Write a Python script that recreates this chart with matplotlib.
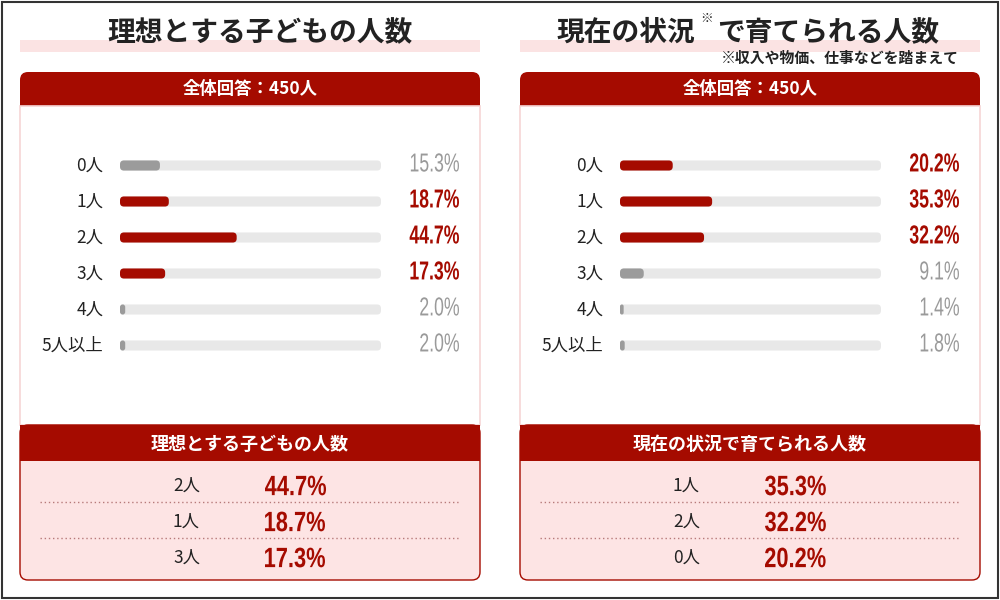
import matplotlib
matplotlib.use("Agg")
import matplotlib.pyplot as plt
from matplotlib.patches import FancyBboxPatch, Rectangle, PathPatch
from matplotlib.textpath import TextPath
from matplotlib.font_manager import FontProperties
from matplotlib.transforms import Affine2D, ScaledTranslation, blended_transform_factory

plt.rcParams['font.family'] = ['Noto Sans CJK JP', 'DejaVu Sans']

# data
categories = ["0人", "1人", "2人", "3人", "4人", "5人以上"]
ideal_pct = [15.3, 18.7, 44.7, 17.3, 2.0, 2.0]
current_pct = [20.2, 35.3, 32.2, 9.1, 1.4, 1.8]
respondents = 450

titles = ["理想とする子どもの人数", "現在の状況で育てられる人数"]
note = "※収入や物価、仕事などを踏まえて"

RED = "#a50b00"
GRAY_BAR = "#9b9b9b"
GRAY_TXT = "#9a9a9a"
TRACK = "#e8e8e8"
PINK = "#fde4e4"
DARK = "#222222"

fig = plt.figure(figsize=(10, 6), dpi=100)
bg = fig.add_axes([0, 0, 1, 1])
bg.set_xlim(0, 1000)
bg.set_ylim(600, 0)
bg.axis("off")

# outer frame
bg.add_patch(Rectangle((1.5, 1.5), 996, 596, fill=False, ec="#333333", lw=1.5))


def narrow_text(ax, x, y, s, trans, size, color, ha="left", bold=True, sx=0.74, dx=0, dy=0):
    # condensed numerals: squeeze a text path horizontally
    prop = FontProperties(family="Liberation Sans", weight="bold" if bold else "normal")
    path = TextPath((0, 0), s, size=size, prop=prop)
    ext = path.get_extents()
    xs = -ext.x0 * sx if ha == "left" else -ext.x1 * sx
    ys = -(ext.y0 + ext.y1) / 2
    t = Affine2D().scale(sx, 1).translate(xs + dx, ys + dy) + ScaledTranslation(x, y, trans)
    p = PathPatch(path, fc=color, ec="none", transform=t, clip_on=False, zorder=5)
    ax.add_artist(p)


def rounded_bar(ax, value, row, color, h=0.28, r=1.5, asp=0.074):
    rr = min(r, value / 2)
    ax.add_patch(FancyBboxPatch((0, row - h / 2), value, h,
                                boxstyle=f"round,pad=0,rounding_size={rr}",
                                mutation_aspect=asp, fc=color, ec="none"))


def panel(x0, values, title, with_note):
    # title with pink band
    bg.add_patch(Rectangle((x0 + 20, 40), 460, 12, fc="#fbe3e3", ec="none", zorder=1))
    if with_note:
        left, right = title.split("で", 1)
        bg.text(x0 + 195, 33, left, ha="right", va="center", fontsize=20,
                fontweight="bold", color=DARK, zorder=3)
        bg.text(x0 + 207, 18, "※", ha="center", va="center", fontsize=9,
                color=DARK, zorder=3)
        bg.text(x0 + 217, 33, "で" + right, ha="left", va="center", fontsize=20,
                fontweight="bold", color=DARK, zorder=3)
        bg.text(x0 + 459, 58, note, ha="right", va="center", fontsize=10.7,
                fontweight="bold", color=DARK, zorder=3)
    else:
        bg.text(x0 + 260, 33, title, ha="center", va="center", fontsize=20,
                fontweight="bold", color=DARK, zorder=3)

    # top header
    bg.add_patch(FancyBboxPatch((x0 + 20, 72), 460, 44,
                                boxstyle="round,pad=0,rounding_size=8",
                                fc=RED, ec="none", zorder=1))
    bg.add_patch(Rectangle((x0 + 20, 106), 460, 319, fc="white",
                           ec="#f6d6d6", lw=1.2, zorder=2))
    bg.text(x0 + 250, 89, f"全体回答：{respondents}人", ha="center", va="center",
            fontsize=12.5, fontweight="bold", color="white", zorder=3)

    # ranking
    order = sorted(range(len(values)), key=lambda i: values[i], reverse=True)
    top3 = order[:3]

    # bar axes
    ax = fig.add_axes([(x0 + 120) / 1000, 1 - 363.5 / 600, 261 / 1000, 216 / 600])
    ax.set_xlim(0, 100)
    ax.set_ylim(len(categories) - 0.5, -0.5)
    ax.axis("off")
    side = blended_transform_factory(ax.transAxes, ax.transData)
    for i, (cat, v) in enumerate(zip(categories, values)):
        rounded_bar(ax, 100, i, TRACK)
        hot = i in top3
        rounded_bar(ax, v, i, RED if hot else GRAY_BAR)
        ax.annotate(cat, xy=(0, i), xycoords=("axes fraction", "data"),
                    xytext=(-12, 0), textcoords="offset points",
                    ha="right", va="center", fontsize=12.5, color=DARK)
        narrow_text(ax, 1, i, f"{v:.1f}%", side, 26,
                    RED if hot else GRAY_TXT, ha="right", bold=hot, sx=0.68,
                    dx=78, dy=3)

    # bottom summary
    bg.add_patch(FancyBboxPatch((x0 + 20, 425), 460, 155,
                                boxstyle="round,pad=0,rounding_size=8",
                                fc=PINK, ec=RED, lw=1, zorder=2))
    bg.add_patch(Rectangle((x0 + 20, 425), 460, 36, fc=RED, ec="none", zorder=3))
    bg.text(x0 + 250, 444, title, ha="center", va="center", fontsize=13,
            fontweight="bold", color="white", zorder=4)
    row_y = [486, 522, 558]
    for k, i in enumerate(top3):
        bg.text(x0 + 200, row_y[k], categories[i], ha="right", va="center",
                fontsize=12.5, color=DARK, zorder=4)
        narrow_text(bg, x0 + 265, row_y[k], f"{values[i]:.1f}%", bg.transData,
                    28, RED, ha="left", bold=True, sx=0.78, dy=0.5)
    for yy in [502, 538]:
        bg.plot([x0 + 40, x0 + 460], [yy, yy], ls=(0, (1, 2)), color="#b77a7a",
                lw=1, zorder=4)


panel(0, ideal_pct, titles[0], False)
panel(500, current_pct, titles[1], True)

fig.savefig("out.png", dpi=100)
